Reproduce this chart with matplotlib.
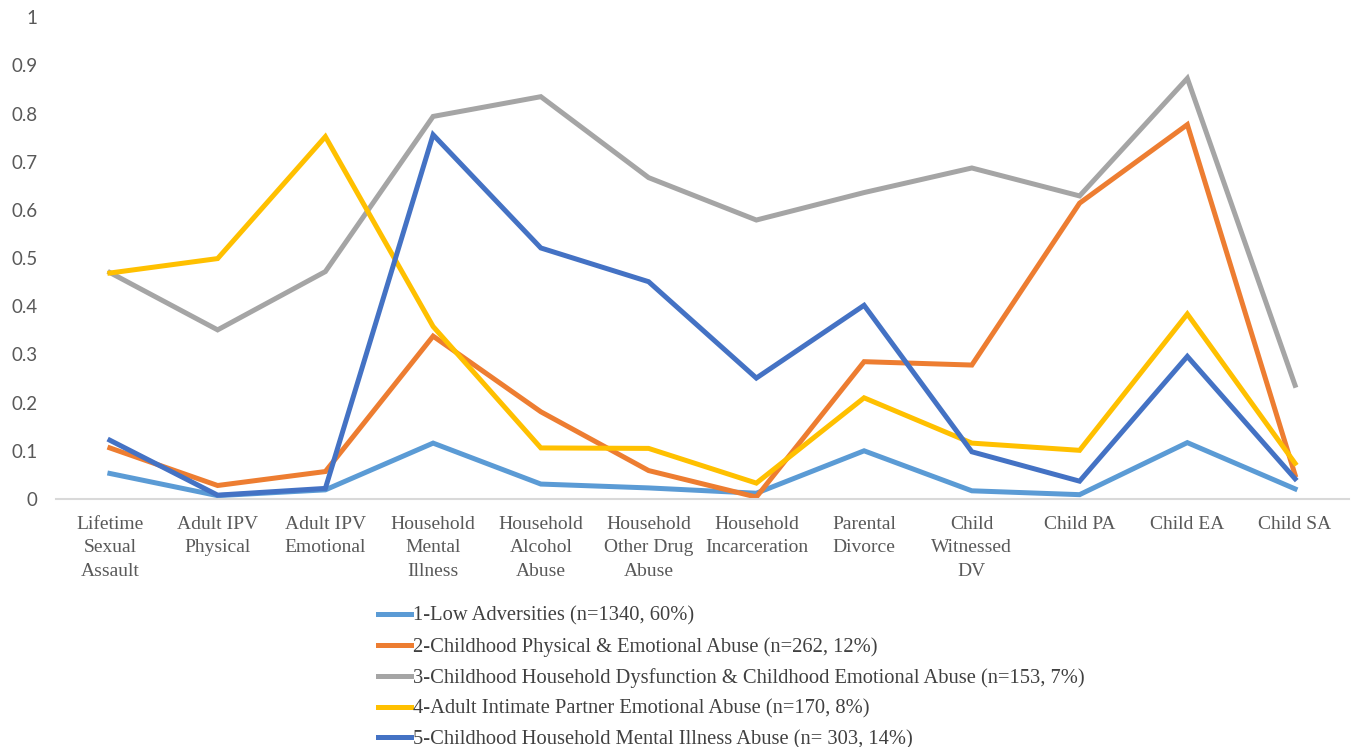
import matplotlib.pyplot as plt

# Categorias del eje x
categorias = ['Lifetime\nSexual\nAssault', 'Adult IPV\nPhysical', 'Adult IPV\nEmotional',
              'Household\nMental\nIllness', 'Household\nAlcohol\nAbuse', 'Household\nOther Drug\nAbuse',
              'Household\nIncarceration', 'Parental\nDivorce', 'Child\nWitnessed\nDV',
              'Child PA', 'Child EA', 'Child SA']

# Probabilidades por clase
low_adv = [0.053, 0.007, 0.019, 0.116, 0.031, 0.023, 0.012, 0.100, 0.017, 0.009, 0.117, 0.021]
phys_emo = [0.106, 0.028, 0.057, 0.338, 0.181, 0.059, 0.004, 0.285, 0.278, 0.614, 0.777, 0.050]
hh_dysf = [0.470, 0.351, 0.472, 0.794, 0.835, 0.667, 0.579, 0.636, 0.687, 0.629, 0.873, 0.236]
ipv_emo = [0.469, 0.499, 0.752, 0.358, 0.106, 0.105, 0.033, 0.210, 0.116, 0.101, 0.384, 0.074]
mental = [0.122, 0.008, 0.022, 0.756, 0.521, 0.451, 0.251, 0.402, 0.098, 0.037, 0.296, 0.042]

etiquetas = ['1-Low Adversities (n=1340, 60%)',
             '2-Childhood Physical & Emotional Abuse (n=262, 12%)',
             '3-Childhood Household Dysfunction & Childhood Emotional Abuse (n=153, 7%)',
             '4-Adult Intimate Partner Emotional Abuse (n=170, 8%)',
             '5-Childhood Household Mental Illness Abuse (n= 303, 14%)']
colores = ['#5B9BD5', '#ED7D31', '#A5A5A5', '#FFC000', '#4472C4']
series = [low_adv, phys_emo, hh_dysf, ipv_emo, mental]

fig = plt.figure(figsize=(13.56, 7.47), dpi=100)
ax = fig.add_axes([0.0413, 0.332, 0.9535, 0.645])

x = list(range(len(categorias)))
for vals, c, lab in zip(series, colores, etiquetas):
    ax.plot(x, vals, color=c, linewidth=3.6, label=lab, solid_joinstyle='miter')

ax.set_xlim(-0.5, len(categorias) - 0.5)
ax.set_ylim(0, 1)
ax.set_yticks([i / 10 for i in range(11)])
ax.set_yticklabels(['0'] + ['0.%d' % i for i in range(1, 10)] + ['1'],
                   fontfamily='Lato', fontsize=13.5, color='#595959')
ax.set_xticks(x)
ax.set_xticklabels(categorias, fontfamily='Liberation Serif', fontsize=14,
                   color='#595959', linespacing=1.5, va='top')
ax.tick_params(axis='both', length=0)
ax.tick_params(axis='x', pad=12)
ax.tick_params(axis='y', pad=13.5)

for s in ['top', 'right', 'left']:
    ax.spines[s].set_visible(False)
ax.spines['bottom'].set_color('#D9D9D9')
ax.spines['bottom'].set_linewidth(1.5)

fig.legend(loc='upper left', bbox_to_anchor=(0.279, 0.188), frameon=False,
           prop={'family': 'Liberation Serif', 'size': 14.8}, labelcolor='#404040',
           handlelength=1.6, handletextpad=0.1, labelspacing=0.55, borderaxespad=0,
           borderpad=0)

fig.savefig('out.png', dpi=100)
